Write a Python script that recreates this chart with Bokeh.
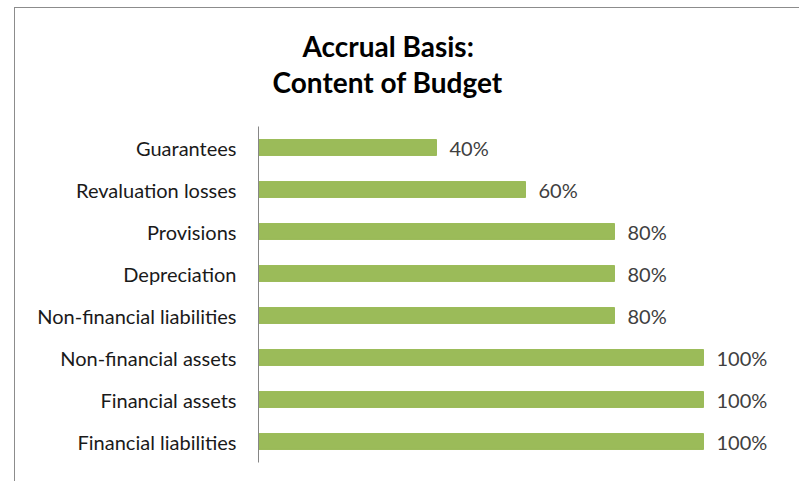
from bokeh.plotting import figure
from bokeh.models import ColumnDataSource, LabelSet, Title, Range1d
from bokeh.core.properties import value
from bokeh.embed import file_html
from bokeh.resources import INLINE

categories = ["Financial liabilities", "Financial assets", "Non-financial assets",
              "Non-financial liabilities", "Depreciation", "Provisions",
              "Revaluation losses", "Guarantees"]
values = [1.00, 1.00, 1.00, 0.80, 0.80, 0.80, 0.60, 0.40]
value_labels = ["100%", "100%", "100%", "80%", "80%", "80%", "60%", "40%"]
title_lines = ["Accrual Basis:", "Content of Budget"]

FONT = "Lato"

src = ColumnDataSource(dict(cat=categories, val=values, lab=value_labels))

p = figure(width=785, height=474, y_range=categories, x_range=Range1d(0, 1.1955),
           output_backend="svg", toolbar_location=None, title=None,
           min_border_left=243, min_border_right=10, min_border_top=118,
           min_border_bottom=20)
p.styles = {"margin-left": "14px", "margin-top": "7px",
            "border-left": "1.5px solid #8c8c8c", "border-top": "1.5px solid #8c8c8c"}

p.hbar(y="cat", right="val", left=0, height=0.38, source=src,
       fill_color="#9BBB59", line_color="#9BBB59")

p.add_layout(LabelSet(x="val", y="cat", text="lab", source=src, x_offset=13,
                      text_baseline="middle", text_font_size="20px",
                      text_font=value(FONT), text_color="#404040"))

p.xaxis.visible = False
p.xgrid.visible = False
p.ygrid.visible = False
p.outline_line_color = None
p.y_range.range_padding = 0
p.yaxis.axis_line_color = "#868686"
p.yaxis.axis_line_width = 1
p.yaxis.major_tick_line_color = None
p.yaxis.minor_tick_line_color = None
p.yaxis.major_tick_out = 0
p.yaxis.major_tick_in = 0
p.yaxis.major_label_standoff = 22
p.yaxis.major_label_text_font = FONT
p.yaxis.major_label_text_font_size = "20px"
p.yaxis.major_label_text_color = "#1a1a1a"

# spacer between the plot frame and the title block
p.add_layout(Title(text=" ", text_font_size="20px", standoff=4), "above")

offsets = [44, 14]
for t, off in reversed(list(zip(title_lines, offsets))):
    p.add_layout(Title(text=t, align="left", offset=off, standoff=0,
                       text_font=FONT, text_font_size="28px", text_font_style="bold",
                       text_color="#000000"), "above")

open("out.html", "w").write(file_html(p, INLINE))
